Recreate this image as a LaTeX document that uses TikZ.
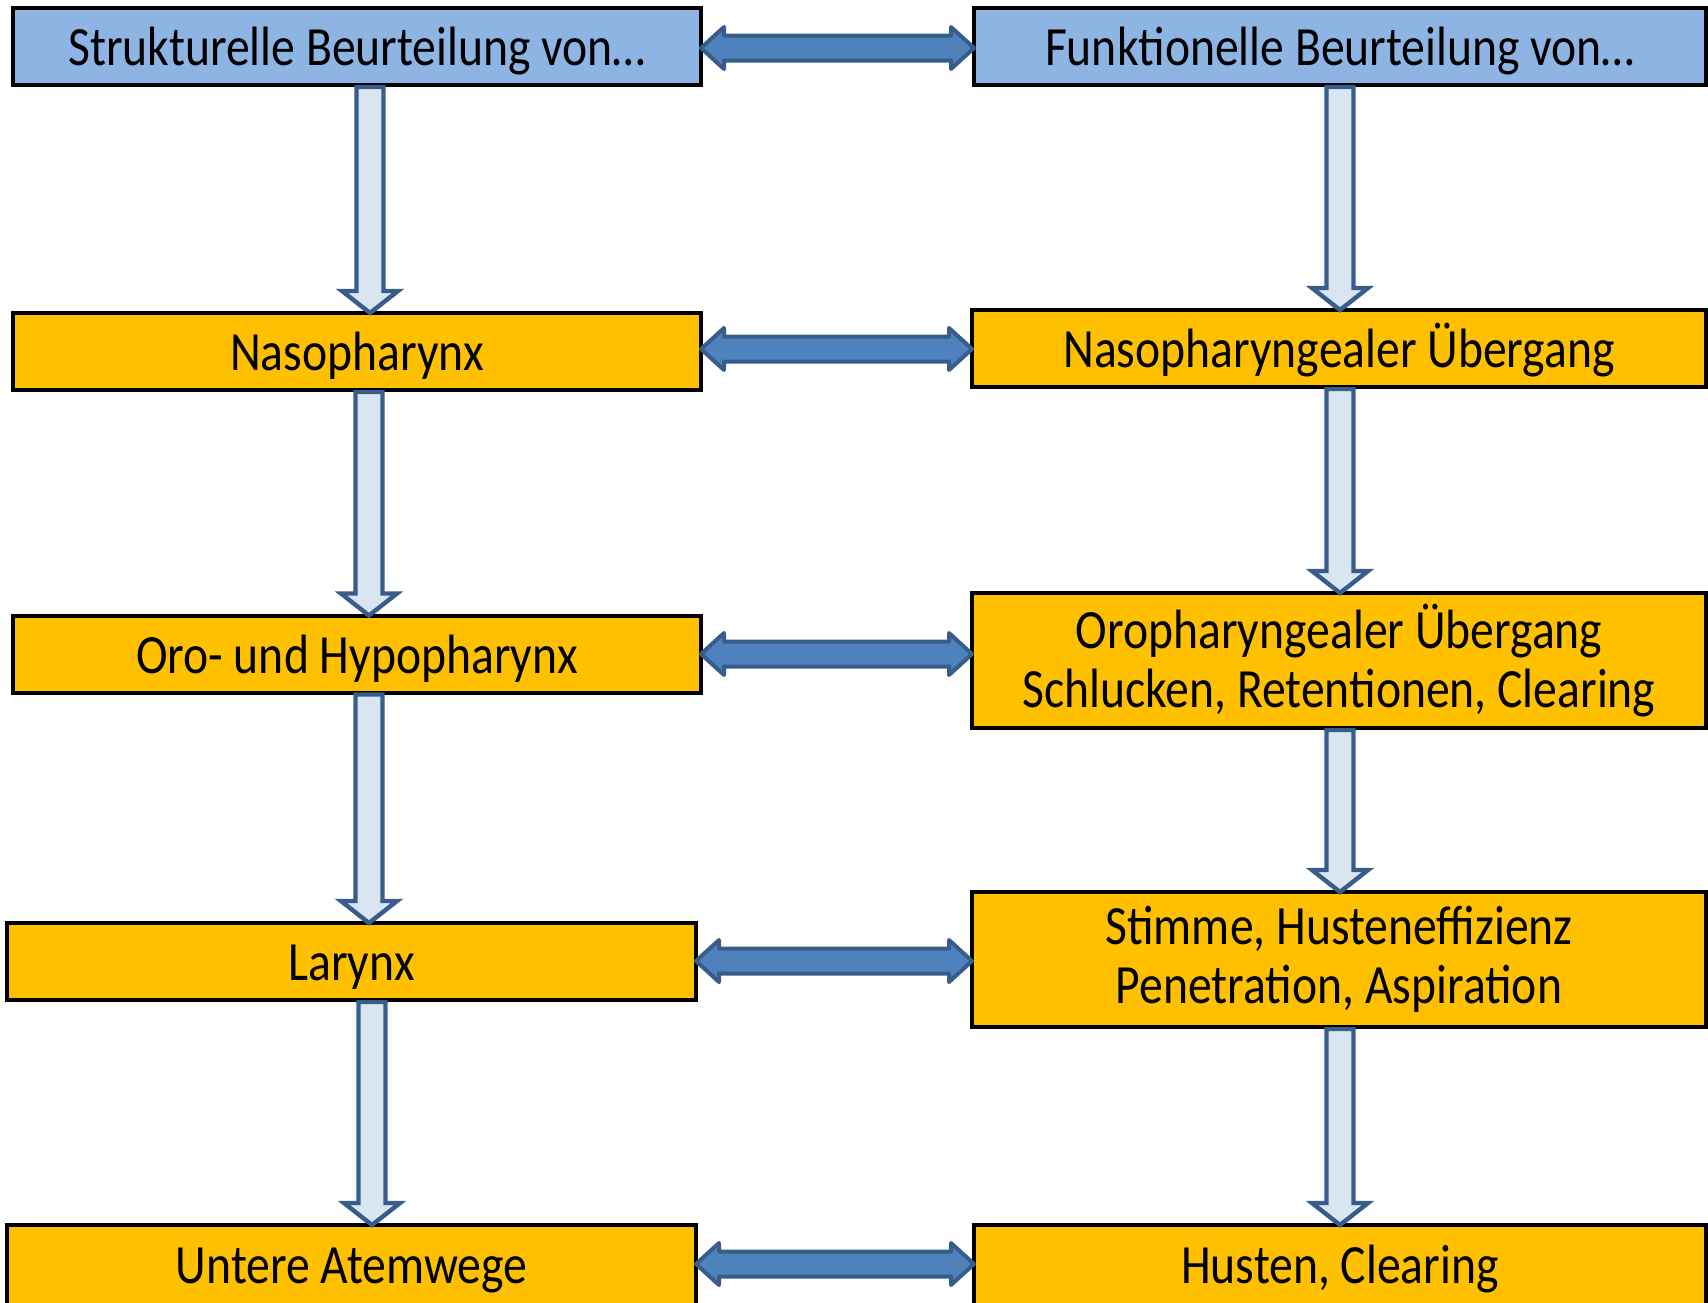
\documentclass[tikz,border=0pt]{standalone}
\usepackage{fontspec}
\setmainfont[FakeStretch=0.86]{Carlito}
\usetikzlibrary{calc}

\definecolor{headblue}{HTML}{8EB4E3}
\definecolor{rowgold}{HTML}{FFC000}
\definecolor{arrowblue}{HTML}{4F81BD}
\definecolor{arrowedge}{HTML}{385D8A}
\definecolor{arrowpale}{HTML}{DAE5F2}

% fat downward arrow between two boxes at a given x
\newcommand{\downlink}[3]{%
  \draw[downarr] let \p1=(#1.south), \p2=(#2.north) in
    (#3-6.75pt,\y1-1pt) -- (#3+6.75pt,\y1-1pt) -- (#3+6.75pt,\y2+11pt)
    -- (#3+14pt,\y2+11pt) -- (#3,\y2) -- (#3-14pt,\y2+11pt)
    -- (#3-6.75pt,\y2+11pt) -- cycle;}
% fat double arrow between a left and a right box
\newcommand{\bothlink}[3]{%
  \draw[bothwayarr] let \p1=(#1.east), \p2=(#2.west) in
    (\x1,#3) -- (\x1+11.5pt,#3+10.5pt) -- (\x1+11.5pt,#3+6.25pt)
    -- (\x2-11.5pt,#3+6.25pt) -- (\x2-11.5pt,#3+10.5pt) -- (\x2,#3)
    -- (\x2-11.5pt,#3-10.5pt) -- (\x2-11.5pt,#3-6.25pt)
    -- (\x1+11.5pt,#3-6.25pt) -- (\x1+11.5pt,#3-10.5pt) -- cycle;}

\begin{document}
\begin{tikzpicture}[x=0.5pt,y=-0.5pt,
  every node/.style={draw, line width=2pt, inner sep=0pt, outer sep=0pt, align=center, font=\fontsize{27.7}{29.5}\selectfont, execute at begin node={\rule{0pt}{23.5pt}}},
  headbox/.style={fill=headblue, minimum height=38.5pt},
  rowbox/.style={fill=rowgold, minimum height=38.5pt},
  tallbox/.style={fill=rowgold, minimum height=67.5pt},
  downarr/.style={draw=arrowedge, fill=arrowpale, line width=2.2pt, line join=miter},
  bothwayarr/.style={draw=arrowedge, fill=arrowblue, line width=2pt, line join=round}]
\useasboundingbox (0,0) rectangle (1708,1302);

\node[headbox, minimum width=344pt] (struct) at (357,46.5) {Strukturelle Beurteilung von…};
\node[headbox, minimum width=366pt] (funct) at (1340,46.5) {Funktionelle Beurteilung von…};
\node[rowbox, minimum width=344pt] (naso) at (357,351.5) {Nasopharynx};
\node[rowbox, minimum width=367pt] (nasotr) at (1339,348.5) {Nasopharyngealer Übergang};
\node[rowbox, minimum width=344pt] (oro) at (357,654) {Oro- und Hypopharynx};
\node[tallbox, minimum width=367pt] (orotr) at (1339,660.5) {Oropharyngealer Übergang\\Schlucken, Retentionen, Clearing};
\node[rowbox, minimum width=344.5pt] (larynx) at (351.5,961.5) {Larynx};
\node[tallbox, minimum width=367pt] (voice) at (1339,959.5) {Stimme, Husteneffizienz\\Penetration, Aspiration};
\node[rowbox, minimum width=344.5pt, minimum height=40pt] (lower) at (351.5,1265) {Untere Atemwege};
\node[rowbox, minimum width=366pt, minimum height=40pt] (cough) at (1340,1265) {Husten, Clearing};

\downlink{struct}{naso}{185pt}
\downlink{naso}{oro}{184.5pt}
\downlink{oro}{larynx}{184.5pt}
\downlink{larynx}{lower}{186pt}
\downlink{funct}{nasotr}{670pt}
\downlink{nasotr}{orotr}{670pt}
\downlink{orotr}{voice}{670pt}
\downlink{voice}{cough}{670pt}

\bothlink{struct}{funct}{-24pt}
\bothlink{naso}{nasotr}{-174.5pt}
\bothlink{oro}{orotr}{-327pt}
\bothlink{larynx}{voice}{-480.5pt}
\bothlink{lower}{cough}{-632pt}
\end{tikzpicture}
\end{document}
